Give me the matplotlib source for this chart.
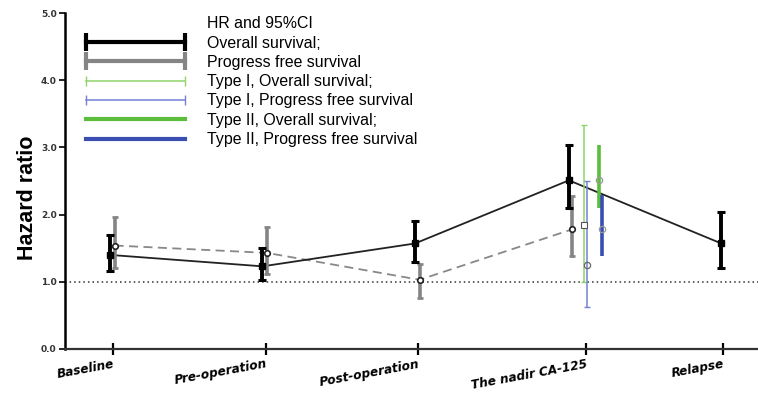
import matplotlib
matplotlib.use("Agg")
import matplotlib.pyplot as plt
from matplotlib.lines import Line2D

plt.rcParams['font.family'] = ['Liberation Sans', 'DejaVu Sans']

# time points (nadir sits a little to the right in the original)
labels = ['Baseline', 'Pre-operation', 'Post-operation', 'The nadir CA-125', 'Relapse']
tick_x = [1, 2, 3, 4.1, 5]

# overall survival
os_x = [0.98, 1.98, 2.98, 3.99, 4.99]
os_hr = [1.40, 1.23, 1.57, 2.51, 1.57]
os_lo = [1.16, 1.03, 1.30, 2.10, 1.20]
os_hi = [1.70, 1.50, 1.90, 3.04, 2.04]

# progress free survival
pfs_x = [1.01, 2.01, 3.01, 4.01]
pfs_hr = [1.54, 1.43, 1.03, 1.78]
pfs_lo = [1.20, 1.12, 0.76, 1.38]
pfs_hi = [1.97, 1.82, 1.26, 2.28]

# subtypes at nadir: x, hr, lo, hi
t1_os = (4.09, 1.84, 1.00, 3.34)
t1_pfs = (4.11, 1.25, 0.63, 2.50)
t2_os = (4.19, 2.51, 2.10, 3.04)
t2_pfs = (4.21, 1.78, 1.38, 2.29)

green_l = '#8fd46a'
blue_l = '#7480d6'
green_d = '#5cbc3c'
blue_d = '#3a4db0'


def err(v, lo, hi):
    if not isinstance(v, list):
        return [[v - lo], [hi - v]]
    return [[a - b for a, b in zip(v, lo)], [b - a for a, b in zip(v, hi)]]


fig = plt.figure(figsize=(7.58, 3.95), dpi=100)
ax = fig.add_axes([0.0858, 0.1165, 0.9142, 0.8505])

ax.axhline(1.0, color='#333333', ls=(0, (1, 2)), lw=1.1, zorder=1)

# lines connecting the points
ax.plot(os_x, os_hr, color='#222222', lw=1.3, zorder=3)
ax.plot(pfs_x, pfs_hr, color='#888888', lw=1.3, ls=(0, (5, 3)), zorder=2)

ax.errorbar(pfs_x, pfs_hr, yerr=err(pfs_hr, pfs_lo, pfs_hi), fmt='none',
            ecolor='#858585', elinewidth=2.6, capsize=2.5, capthick=2, zorder=3)
ax.plot(pfs_x, pfs_hr, 'o', ms=4, mfc='white', mec='#222222', mew=1.2, zorder=5)

ax.errorbar(os_x, os_hr, yerr=err(os_hr, os_lo, os_hi), fmt='none',
            ecolor='black', elinewidth=2.8, capsize=3, capthick=2.2, zorder=4)
ax.plot(os_x, os_hr, 's', ms=4, color='black', zorder=6)

x, v, lo, hi = t1_os
ax.errorbar([x], [v], yerr=err(v, lo, hi), fmt='none', ecolor=green_l,
            elinewidth=1.1, capsize=2.5, capthick=1, zorder=3)
ax.plot([x], [v], 's', ms=5, mfc='white', mec='#555555', mew=0.8, zorder=5)

x, v, lo, hi = t1_pfs
ax.errorbar([x], [v], yerr=err(v, lo, hi), fmt='none', ecolor=blue_l,
            elinewidth=1.1, capsize=2.5, capthick=1, zorder=3)
ax.plot([x], [v], 'o', ms=4.5, mfc='none', mec='#666666', mew=0.9, zorder=5)

x, v, lo, hi = t2_os
ax.errorbar([x], [v], yerr=err(v, lo, hi), fmt='none', ecolor=green_d,
            elinewidth=2.6, zorder=3)
ax.plot([x], [v], 'o', ms=4.5, mfc='none', mec='#999999', mew=0.9, zorder=5)

x, v, lo, hi = t2_pfs
ax.errorbar([x], [v], yerr=err(v, lo, hi), fmt='none', ecolor=blue_d,
            elinewidth=2.6, zorder=3)
ax.plot([x], [v], 'o', ms=4.5, mfc='none', mec='#999999', mew=0.9, zorder=5)

ax.set_xlim(0.685, 5.23)
ax.set_ylim(0, 5)
ax.set_yticks([0, 1, 2, 3, 4, 5])
ax.set_yticklabels(['0.0', '1.0', '2.0', '3.0', '4.0', '5.0'],
                   fontsize=6.5, fontweight='bold', color='#333333',
                   family=['DejaVu Sans'])
ax.set_xticks(tick_x)
ax.set_xticklabels(labels, rotation=10.5, ha='right', rotation_mode='anchor',
                   fontsize=8.7, fontweight='heavy', fontstyle='italic',
                   family=['DejaVu Sans'])
ax.tick_params(axis='x', direction='inout', length=8, width=1.6, pad=2)
ax.tick_params(axis='y', direction='out', length=4, width=1.2, pad=2)

for s in ['top', 'right']:
    ax.spines[s].set_visible(False)
ax.spines['left'].set_linewidth(1.8)
ax.spines['bottom'].set_linewidth(1.6)
ax.spines['bottom'].set_color('#333333')

ax.set_ylabel('Hazard ratio', fontsize=15.5, fontweight='bold')
ax.yaxis.set_label_coords(-0.039, 0.45)

# legend
handles = [
    Line2D([], [], color='none'),
    Line2D([], [], color='black', lw=3, marker='|', ms=13, mew=3),
    Line2D([], [], color='#858585', lw=3, marker='|', ms=13, mew=3),
    Line2D([], [], color=green_l, lw=1.1, marker='|', ms=7, mew=1),
    Line2D([], [], color=blue_l, lw=1.1, marker='|', ms=7, mew=1),
    Line2D([], [], color=green_d, lw=3),
    Line2D([], [], color=blue_d, lw=3),
]
names = ['HR and 95%CI', 'Overall survival;', 'Progress free survival',
         'Type I, Overall survival;', 'Type I, Progress free survival',
         'Type II, Overall survival;', 'Type II, Progress free survival']
ax.legend(handles, names, loc='upper left', bbox_to_anchor=(0.023, 0.99),
          frameon=False, fontsize=11.4, numpoints=2, handlelength=6.9,
          handletextpad=1.07, labelspacing=0.27, borderpad=0, borderaxespad=0)

fig.savefig('out.png', dpi=100)
